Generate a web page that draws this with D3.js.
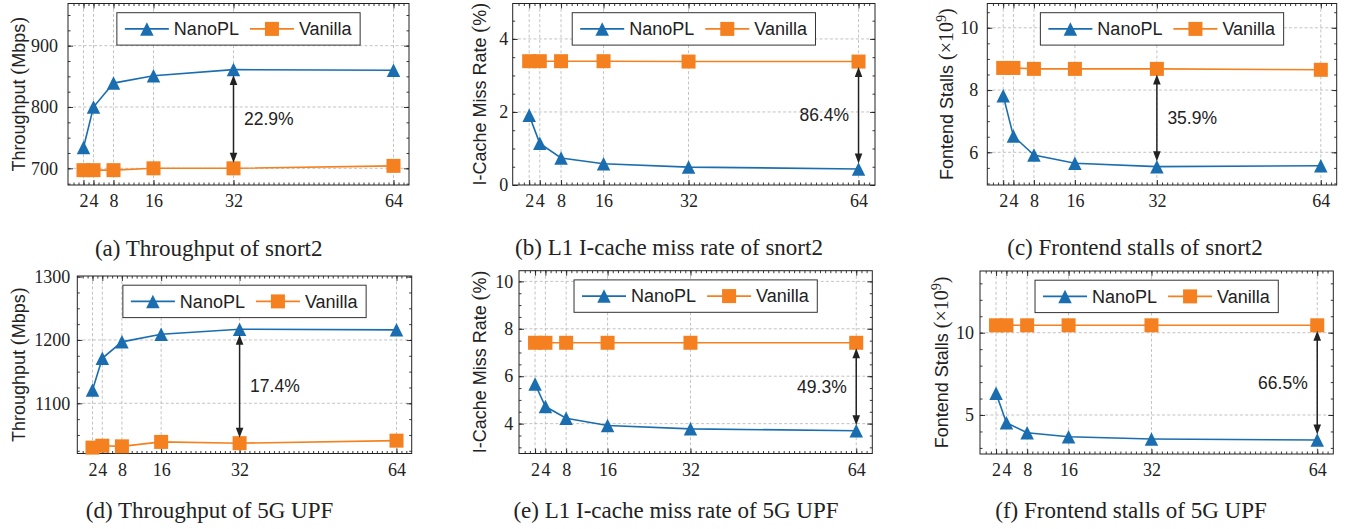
<!DOCTYPE html>
<html>
<head>
<meta charset="utf-8">
<script src="https://cdn.jsdelivr.net/npm/d3@7"></script>
<style>
  body { margin: 0; background: #fff; }
  svg { display: block; }
</style>
</head>
<body>
<svg id="chart" width="1347" height="529"></svg>
<script>
// x values (threads) and their labels
const threads = [2, 4, 8, 16, 32, 64];
const threadLabels = ["2", "4", "8", "16", "32", "64"];
const seriesNames = ["NanoPL", "Vanilla"];

// snort2
const snortThroughputNano = [734, 800, 839, 851, 861, 860];
const snortThroughputVanilla = [697, 697, 697, 700, 700, 704];
const snortMissNano = [1.91, 1.14, 0.74, 0.58, 0.49, 0.44];
const snortMissVanilla = [3.39, 3.39, 3.39, 3.39, 3.38, 3.38];
const snortStallsNano = [7.82, 6.52, 5.91, 5.65, 5.54, 5.57];
const snortStallsVanilla = [8.71, 8.71, 8.68, 8.68, 8.68, 8.65];

// 5G UPF
const upfThroughputNano = [1121, 1171, 1197, 1209, 1217, 1216];
const upfThroughputVanilla = [1030, 1033, 1032, 1039, 1037, 1041];
const upfMissNano = [5.67, 4.72, 4.23, 3.92, 3.78, 3.70];
const upfMissVanilla = [7.41, 7.41, 7.41, 7.41, 7.41, 7.41];
const upfStallsNano = [6.32, 4.53, 3.92, 3.68, 3.54, 3.48];
const upfStallsVanilla = [10.45, 10.45, 10.45, 10.45, 10.45, 10.45];

// y ticks, gap annotations, captions
const yTicksList = [[700, 800, 900], [0, 2, 4], [6, 8, 10], [1100, 1200, 1300], [4, 6, 8, 10], [5, 10]];
const yMinorSteps = [25, 0.5, 0.5, 25, 0.5, 1];
const gapLabels = ["22.9%", "86.4%", "35.9%", "17.4%", "49.3%", "66.5%"];
const gapAt = [32, 64, 32, 32, 64, 64];
const captions = [
  "(a) Throughput of snort2", "(b) L1 I-cache miss rate of snort2", "(c) Frontend stalls of snort2",
  "(d) Throughput of 5G UPF", "(e) L1 I-cache miss rate of 5G UPF", "(f) Frontend stalls of 5G UPF"
];
const yLabelKinds = ["tput", "miss", "stall", "tput", "miss", "stall"];

const blue = "#1a6eb0";
const orange = "#f5801f";
const sans = "'Liberation Sans', Arial, sans-serif";
const serif = "'Liberation Serif', 'Times New Roman', serif";
const xDomain = [-1.1, 67.1];

// layout per panel (plot rect: left, top, right, bottom)
const panels = [
  { rect: [68, 3.5, 409, 185], yDomain: [672.8, 968.8], nano: snortThroughputNano, van: snortThroughputVanilla, ylx: 18.3, pad: 10, cap: [208.7, 248] },
  { rect: [512.7, 3.5, 875, 185], yDomain: [0, 4.97], nano: snortMissNano, van: snortMissVanilla, ylx: 480, pad: 4.5, cap: [669, 247] },
  { rect: [987.3, 3.5, 1336.7, 185], yDomain: [4.95, 10.78], nano: snortStallsNano, van: snortStallsVanilla, ylx: 946.7, pad: 9, cap: [1135, 247] },
  { rect: [77.3, 276, 411.7, 453.5], yDomain: [1020.7, 1301], nano: upfThroughputNano, van: upfThroughputVanilla, ylx: 18.3, pad: 7, cap: [209.5, 510] },
  { rect: [519, 270.7, 872.3, 453.5], yDomain: [2.74, 10.45], nano: upfMissNano, van: upfMissVanilla, ylx: 480, pad: 5.7, cap: [676, 510] },
  { rect: [980, 271, 1333.3, 454], yDomain: [2.63, 13.75], nano: upfStallsNano, van: upfStallsVanilla, ylx: 941.7, pad: 6, cap: [1131, 510] }
];

const svg = d3.select("#chart");

function styleAxis(sel, font, size) {
  sel.select(".domain").remove();
  sel.selectAll("line").attr("stroke", "#222").attr("stroke-width", 0.9);
  sel.attr("font-family", font).attr("font-size", size);
  sel.selectAll("text").attr("fill", "#222");
}

function triPath(s) {
  const h = s / 2;
  return `M0,${-h}L${h},${h}L${-h},${h}Z`;
}

panels.forEach((p, i) => {
  const [x0, y0, x1, y1] = p.rect;
  const x = d3.scaleLinear().domain(xDomain).range([x0, x1]);
  const y = d3.scaleLinear().domain(p.yDomain).range([y1, y0]);
  const g = svg.append("g");
  const yTicks = yTicksList[i];
  const minorY = d3.range(Math.ceil(p.yDomain[0] / yMinorSteps[i]) * yMinorSteps[i], p.yDomain[1], yMinorSteps[i]);
  const minorX = d3.range(0, 67, 1);

  // grid
  const grid = g.append("g").attr("stroke", "#b4b4b4").attr("stroke-width", 0.8).attr("stroke-dasharray", "3,2.2");
  grid.selectAll(".gx").data(threads).join("line")
    .attr("x1", d => x(d)).attr("x2", d => x(d)).attr("y1", y0).attr("y2", y1);
  grid.selectAll(".gy").data(yTicks.filter(t => y(t) > y0 + 1 && y(t) < y1 - 1)).join("line")
    .attr("x1", x0).attr("x2", x1).attr("y1", d => y(d)).attr("y2", d => y(d));

  // axes (inward ticks on all four sides)
  const bottom = g.append("g").attr("transform", `translate(0,${y1})`)
    .call(d3.axisBottom(x).tickValues(threads).tickFormat((d, k) => threadLabels[k]).tickSize(-5).tickPadding(9.5));
  styleAxis(bottom, serif, 18);
  styleAxis(g.append("g").attr("transform", `translate(0,${y1})`)
    .call(d3.axisBottom(x).tickValues(minorX).tickFormat("").tickSize(-2.5)), serif, 18);
  styleAxis(g.append("g").attr("transform", `translate(0,${y0})`)
    .call(d3.axisTop(x).tickValues(threads).tickFormat("").tickSize(-5)), serif, 18);
  styleAxis(g.append("g").attr("transform", `translate(0,${y0})`)
    .call(d3.axisTop(x).tickValues(minorX).tickFormat("").tickSize(-2.5)), serif, 18);

  const left = g.append("g").attr("transform", `translate(${x0},0)`)
    .call(d3.axisLeft(y).tickValues(yTicks).tickFormat(d3.format("d")).tickSize(-5).tickPadding(p.pad));
  styleAxis(left, serif, 18);
  styleAxis(g.append("g").attr("transform", `translate(${x0},0)`)
    .call(d3.axisLeft(y).tickValues(minorY).tickFormat("").tickSize(-2.5)), serif, 18);
  styleAxis(g.append("g").attr("transform", `translate(${x1},0)`)
    .call(d3.axisRight(y).tickValues(yTicks).tickFormat("").tickSize(-5)), serif, 18);
  styleAxis(g.append("g").attr("transform", `translate(${x1},0)`)
    .call(d3.axisRight(y).tickValues(minorY).tickFormat("").tickSize(-2.5)), serif, 18);

  // frame
  g.append("rect").attr("x", x0).attr("y", y0).attr("width", x1 - x0).attr("height", y1 - y0)
    .attr("fill", "none").attr("stroke", "#222").attr("stroke-width", 1);

  // series
  const line = d3.line().x((d, k) => x(threads[k])).y(d => y(d));
  g.append("path").datum(p.van).attr("d", line).attr("fill", "none").attr("stroke", orange).attr("stroke-width", 1.6);
  g.append("path").datum(p.nano).attr("d", line).attr("fill", "none").attr("stroke", blue).attr("stroke-width", 1.6);
  g.selectAll(".sq").data(p.van).join("rect")
    .attr("x", (d, k) => x(threads[k]) - 7).attr("y", d => y(d) - 7)
    .attr("width", 14).attr("height", 14).attr("fill", orange);
  g.selectAll(".tri").data(p.nano).join("path")
    .attr("transform", (d, k) => `translate(${x(threads[k])},${y(d)})`)
    .attr("d", triPath(13.5)).attr("fill", blue);

  // gap arrow
  const k = threads.indexOf(gapAt[i]);
  const ax = x(gapAt[i]);
  const vTop = Math.max(p.nano[k], p.van[k]);
  const vBot = Math.min(p.nano[k], p.van[k]);
  const ya = y(vTop) + 5.5, yb = y(vBot) - 5.5;
  g.append("line").attr("x1", ax).attr("x2", ax).attr("y1", ya + 4).attr("y2", yb - 4)
    .attr("stroke", "#222").attr("stroke-width", 1.5);
  g.append("path").attr("d", `M${ax},${ya}L${ax + 3.8},${ya + 10}L${ax - 3.8},${ya + 10}Z`).attr("fill", "#222");
  g.append("path").attr("d", `M${ax},${yb}L${ax + 3.8},${yb - 10}L${ax - 3.8},${yb - 10}Z`).attr("fill", "#222");
  const rightSide = gapAt[i] === 64;
  g.append("text")
    .attr("x", rightSide ? ax - 9.5 : ax + 10.5).attr("y", (ya + yb) / 2).attr("dy", "0.35em")
    .attr("text-anchor", rightSide ? "end" : "start")
    .attr("font-family", sans).attr("font-size", 17.5).attr("fill", "#222")
    .text(gapLabels[i]);

  // legend
  const lg = g.append("g");
  const box = lg.append("rect").attr("fill", "#fff").attr("stroke", "#333").attr("stroke-width", 1);
  let cx = 8;
  const ly = 16.2;
  seriesNames.forEach((name, s) => {
    const col = s === 0 ? blue : orange;
    lg.append("line").attr("x1", cx).attr("x2", cx + 44).attr("y1", ly).attr("y2", ly)
      .attr("stroke", col).attr("stroke-width", 1.6);
    if (s === 0) {
      lg.append("path").attr("transform", `translate(${cx + 22},${ly})`).attr("d", triPath(13.5)).attr("fill", col);
    } else {
      lg.append("rect").attr("x", cx + 15).attr("y", ly - 7).attr("width", 14).attr("height", 14).attr("fill", col);
    }
    cx += 49;
    const t = lg.append("text").attr("x", cx).attr("y", ly).attr("dy", "0.35em")
      .attr("font-family", sans).attr("font-size", 18).attr("fill", "#222").text(name);
    cx += t.node().getComputedTextLength() + (s === 0 ? 11 : 8.5);
  });
  box.attr("x", 0).attr("y", 0).attr("width", cx).attr("height", 32.4);
  lg.attr("transform", `translate(${(x0 + x1) / 2 - cx / 2},${y0 + 9.2})`);

  // y label
  const yl = svg.append("text")
    .attr("transform", `translate(${p.ylx},${(y0 + y1) / 2}) rotate(-90)`)
    .attr("text-anchor", "middle").attr("dy", "0.35em")
    .attr("font-family", sans).attr("font-size", 18).attr("fill", "#222");
  const kind = yLabelKinds[i];
  const paren = 20;
  if (kind === "tput") {
    yl.append("tspan").text("Throughput ");
    yl.append("tspan").attr("font-family", serif).attr("font-size", paren).text("(");
    yl.append("tspan").text("Mbps");
    yl.append("tspan").attr("font-family", serif).attr("font-size", paren).text(")");
  } else if (kind === "miss") {
    yl.append("tspan").text("I-Cache Miss Rate ");
    yl.append("tspan").attr("font-family", serif).attr("font-size", paren).text("(");
    yl.append("tspan").text("%");
    yl.append("tspan").attr("font-family", serif).attr("font-size", paren).text(")");
  } else {
    yl.append("tspan").text("Fontend Stalls ");
    yl.append("tspan").attr("font-family", serif).attr("font-size", paren).text("(\u00d710");
    yl.append("tspan").attr("font-family", serif).attr("font-size", 14).attr("dy", "-7").text("9");
    yl.append("tspan").attr("font-family", serif).attr("font-size", paren).attr("dy", "7").text(")");
  }

  // caption
  svg.append("text").attr("x", p.cap[0]).attr("y", p.cap[1]).attr("dy", "0.35em")
    .attr("text-anchor", "middle").attr("font-family", serif).attr("font-size", 23).attr("fill", "#222")
    .text(captions[i]);
});
</script>
</body>
</html>
